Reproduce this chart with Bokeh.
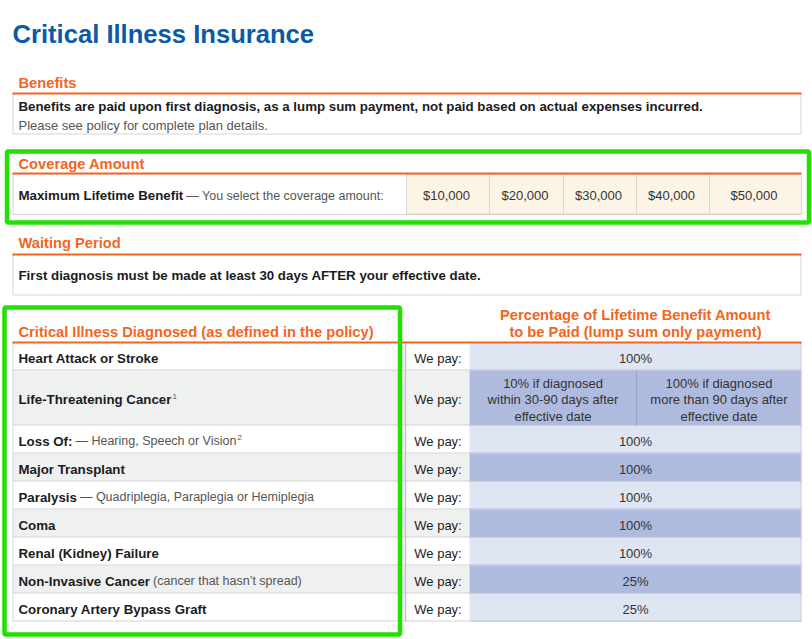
from bokeh.plotting import figure
from bokeh.models import Range1d
from bokeh.core.properties import value
from bokeh.embed import file_html
from bokeh.resources import INLINE

# ---------------- data ----------------
TITLE = "Critical Illness Insurance"
SECTION_TITLES = ["Benefits", "Coverage Amount", "Waiting Period"]
BENEFIT_LINES = [
    "Benefits are paid upon first diagnosis, as a lump sum payment, not paid based on actual expenses incurred.",
    "Please see policy for complete plan details.",
]
COVERAGE_LABEL = "Maximum Lifetime Benefit"
COVERAGE_NOTE = "— You select the coverage amount:"
COVERAGE_AMOUNTS = ["$10,000", "$20,000", "$30,000", "$40,000", "$50,000"]
WAITING_TEXT = "First diagnosis must be made at least 30 days AFTER your effective date."
ILLNESS_HEADER = "Critical Illness Diagnosed (as defined in the policy)"
PAY_HEADER = ["Percentage of Lifetime Benefit Amount", "to be Paid (lump sum only payment)"]
ILLNESSES = ["Heart Attack or Stroke", "Life-Threatening Cancer", "Loss Of:", "Major Transplant",
             "Paralysis", "Coma", "Renal (Kidney) Failure", "Non-Invasive Cancer",
             "Coronary Artery Bypass Graft"]
ILLNESS_NOTES = ["", "", "— Hearing, Speech or Vision", "", "— Quadriplegia, Paraplegia or Hemiplegia",
                 "", "", "(cancer that hasn’t spread)", ""]
FOOTNOTE_MARKS = ["", "1", "2", "", "", "", "", "", ""]
PAY_LABEL = "We pay:"
PAYOUTS = ["100%", "", "100%", "100%", "100%", "100%", "100%", "25%", "25%"]
SPLIT_PAYOUTS = [["10% if diagnosed", "within 30-90 days after", "effective date"],
                 ["100% if diagnosed", "more than 90 days after", "effective date"]]

# ---------------- style / layout ----------------
FONT = "Liberation Sans"
BLUE = "#0b5aa8"
ORANGE = "#f26522"
GREEN = "#22e000"
BORDER = "#d2d5d9"
BEIGE = "#fcf4e5"
ROW_GRAY = "#eff0f0"
LIGHT_BLUE = "#dfe5f2"
DARK_BLUE = "#aebbde"
DARK_TXT = "#1c1c1c"
MID_TXT = "#333333"
GRAY_TXT = "#555555"

X0, X1 = 12, 801
COVER_EDGES = [406, 489, 563, 636, 709, 801]
PAY_X0, VAL_X0, SPLIT_X = 406, 469, 636
TABLE_TOP = 342
ROW_HEIGHTS = [28, 55, 28, 28, 28, 28, 28, 28, 28]

BOLD_W = {' ': 278, '-': 333, ':': 333, '(': 333, ')': 333, 'A': 722, 'B': 722, 'C': 722, 'D': 722,
          'F': 611, 'G': 778, 'H': 722, 'I': 278, 'K': 722, 'L': 611, 'M': 833, 'N': 722, 'O': 778,
          'P': 667, 'R': 722, 'S': 667, 'T': 611, 'a': 556, 'b': 611, 'c': 556, 'd': 611, 'e': 556,
          'f': 333, 'g': 611, 'h': 611, 'i': 278, 'k': 556, 'l': 278, 'm': 889, 'n': 611, 'o': 611,
          'p': 611, 'r': 389, 's': 556, 't': 333, 'u': 611, 'v': 556, 'x': 556, 'y': 556}
REG_W = {' ': 278, '—': 1000, ',': 278, 'H': 722, 'S': 667, 'V': 667, 'Q': 778, 'P': 667, 'a': 556,
         'c': 500, 'd': 556, 'e': 556, 'g': 556, 'h': 556, 'i': 222, 'l': 222, 'n': 556, 'o': 556,
         'p': 556, 'q': 556, 'r': 333, 's': 500, 'u': 556, 'm': 833, 't': 278, '(': 333, ')': 333}


def tw(s, size, table):
    return sum(table.get(c, 556) for c in s) / 1000.0 * size


p = figure(width=812, height=639, x_range=Range1d(0, 812), y_range=Range1d(639, 0),
           output_backend="svg", toolbar_location=None, tools="",
           x_axis_location=None, y_axis_location=None, min_border=0,
           outline_line_color=None, background_fill_color="white", border_fill_color="white")
p.grid.visible = False


def txt(x, y, s, size, color, bold=False, align="left", baseline="middle"):
    p.text(x=[x], y=[y], text=[s], text_font=value(FONT), text_font_size=f"{size}px",
           text_font_style="bold" if bold else "normal", text_color=color,
           text_align=align, text_baseline=baseline)


def hline(x0, x1, y, color, w=1):
    p.segment(x0=[x0], y0=[y], x1=[x1], y1=[y], line_color=color, line_width=w)


def vline(x, y0, y1, color, w=1):
    p.segment(x0=[x], y0=[y0], x1=[x], y1=[y1], line_color=color, line_width=w)


# title
txt(12, 33, TITLE, 25.6, BLUE, bold=True, baseline="alphabetic")

HDR = 14.7
BODY_B = 13.3
BODY = 13
NOTE = 12.5

# ---- Benefits ----
txt(18, 82.5, SECTION_TITLES[0], HDR, ORANGE, bold=True)
p.quad(left=[X0 + 0.5], right=[X1 - 0.5], top=[93], bottom=[133.5], fill_color="white",
       line_color=BORDER, line_width=1)
hline(X0, X1, 93, ORANGE, 2.2)
txt(18, 106, BENEFIT_LINES[0], BODY_B, DARK_TXT, bold=True)
txt(18, 124.5, BENEFIT_LINES[1], BODY, GRAY_TXT)

# ---- Coverage ----
txt(18, 163, SECTION_TITLES[1], HDR, ORANGE, bold=True)
p.quad(left=[X0 + 0.5], right=[X1 - 0.5], top=[173.5], bottom=[214], fill_color="white",
       line_color=BORDER, line_width=1)
p.quad(left=COVER_EDGES[:-1], right=COVER_EDGES[1:], top=[174] * 5, bottom=[213.5] * 5,
       fill_color=BEIGE, line_color="#dcd6cc", line_width=1)
hline(X0, X1, 173, ORANGE, 2.2)
txt(18, 195, COVERAGE_LABEL, BODY_B, DARK_TXT, bold=True)
txt(18 + tw(COVERAGE_LABEL, BODY_B, BOLD_W) + 3, 195, COVERAGE_NOTE, NOTE, GRAY_TXT)
cx = [(a + b) / 2 - 1.5 for a, b in zip(COVER_EDGES[:-1], COVER_EDGES[1:])]
p.text(x=cx, y=[195] * 5, text=COVERAGE_AMOUNTS, text_font=value(FONT), text_font_size=f"{BODY}px",
       text_color=MID_TXT, text_align="center", text_baseline="middle")

# ---- Waiting ----
txt(18, 242.5, SECTION_TITLES[2], HDR, ORANGE, bold=True)
p.quad(left=[X0 + 0.5], right=[X1 - 0.5], top=[254], bottom=[294.5], fill_color="white",
       line_color=BORDER, line_width=1)
hline(X0, X1, 254, ORANGE, 2.2)
txt(18, 275, WAITING_TEXT, BODY_B, DARK_TXT, bold=True)

# ---- Illness table ----
txt(18, 331, ILLNESS_HEADER, HDR, ORANGE, bold=True)
txt(635, 314.7, PAY_HEADER[0], HDR, ORANGE, bold=True, align="center")
txt(635, 331.7, PAY_HEADER[1], HDR, ORANGE, bold=True, align="center")

tops, bots = [], []
y = TABLE_TOP
for h in ROW_HEIGHTS:
    tops.append(y)
    bots.append(y + h)
    y += h
n = len(ILLNESSES)
left_fill = ["white" if i % 2 == 0 else ROW_GRAY for i in range(n)]
val_fill = [LIGHT_BLUE if i % 2 == 0 else DARK_BLUE for i in range(n)]

p.quad(left=[X0] * n, right=[405] * n, top=tops, bottom=bots, fill_color=left_fill,
       line_color=None)
p.quad(left=[PAY_X0] * n, right=[VAL_X0] * n, top=tops, bottom=bots, fill_color=left_fill,
       line_color=None)
p.quad(left=[VAL_X0] * n, right=[X1] * n, top=tops, bottom=bots, fill_color=val_fill,
       line_color=None)
# row borders
for b in bots:
    hline(X0, VAL_X0, b - 0.5, "#cfd3d7", 1)
    hline(VAL_X0, X1, b - 0.5, "#b3bcd2", 1)
vline(X0 + 0.5, TABLE_TOP, bots[-1], "#d6d9dc", 1)
vline(X1 - 0.5, TABLE_TOP, bots[-1], "#c9cfdc", 1)
vline(405, TABLE_TOP, bots[-1], "#c3c7cb", 1.6)
split_row = PAYOUTS.index("")
vline(SPLIT_X, tops[split_row], bots[split_row], "#97a4c6", 1)
hline(X0, X1, TABLE_TOP, ORANGE, 2.2)

for i in range(n):
    yc = (tops[i] + bots[i]) / 2 + 1.5
    txt(18, yc, ILLNESSES[i], BODY_B, DARK_TXT, bold=True)
    end = 18 + tw(ILLNESSES[i], BODY_B, BOLD_W)
    if ILLNESS_NOTES[i]:
        nx = end + 3
        txt(nx, yc, ILLNESS_NOTES[i], NOTE, GRAY_TXT)
        end = nx + tw(ILLNESS_NOTES[i], NOTE, REG_W)
    if FOOTNOTE_MARKS[i]:
        txt(end + 1, yc - 3.5, FOOTNOTE_MARKS[i], 8, GRAY_TXT)
    txt((PAY_X0 + VAL_X0) / 2, yc, PAY_LABEL, BODY, DARK_TXT, align="center")
    if PAYOUTS[i]:
        txt((VAL_X0 + X1) / 2, yc, PAYOUTS[i], BODY, MID_TXT, align="center")
    else:
        for k, (a, b) in enumerate([(VAL_X0, SPLIT_X), (SPLIT_X, X1)]):
            for j, line in enumerate(SPLIT_PAYOUTS[k]):
                txt((a + b) / 2, yc - 16.5 + 16.5 * j, line, BODY, MID_TXT, align="center")

# ---- green highlight boxes ----
p.quad(left=[6.5], right=[808.5], top=[151], bottom=[222], fill_color=None,
       line_color=GREEN, line_width=4.5)
p.quad(left=[4], right=[399.5], top=[307], bottom=[634], fill_color=None,
       line_color=GREEN, line_width=4.5)

open("out.html", "w").write(file_html(p, INLINE))
